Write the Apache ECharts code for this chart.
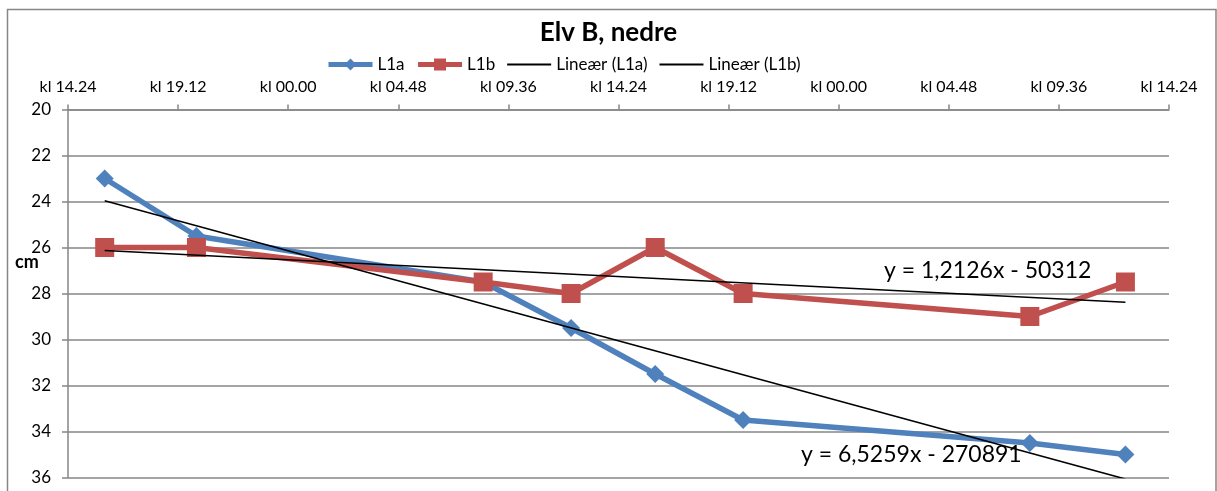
<!DOCTYPE html>
<html>
<head>
<meta charset="utf-8">
<script src="https://cdn.jsdelivr.net/npm/echarts@6/dist/echarts.min.js"></script>
<style>
html,body{margin:0;padding:0;background:#fff;}
#chart{width:1217px;height:491px;}
</style>
</head>
<body>
<div id="chart"></div>
<script>
// Time of each measurement, in minutes from midnight of day 0
const timesMin = [960, 1200, 1950, 2180, 2400, 2630, 3380, 3630];
const l1a = [23, 25.5, 27.5, 29.5, 31.5, 33.5, 34.5, 35];
const l1b = [26, 26, 27.5, 28, 26, 28, 29, 27.5];
// X axis: kl 14.24 (864 min) to kl 14.24 two days later, every 4 h 48 min
const xMin = 864, xMax = 3744, xStep = 288;
const yMin = 20, yMax = 36, yStep = 2;
const seriesNames = ['L1a', 'L1b', 'Lineær (L1a)', 'Lineær (L1b)'];
const eqA = 'y = 6,5259x - 270891';
const eqB = 'y = 1,2126x - 50312';

function linFit(xs, ys) {
  const n = xs.length;
  const mx = xs.reduce((a, b) => a + b, 0) / n;
  const my = ys.reduce((a, b) => a + b, 0) / n;
  let sxy = 0, sxx = 0;
  for (let i = 0; i < n; i++) { sxy += (xs[i] - mx) * (ys[i] - my); sxx += (xs[i] - mx) ** 2; }
  const k = sxy / sxx;
  const x0 = xs[0], x1 = xs[n - 1];
  return [[x0, my + k * (x0 - mx)], [x1, my + k * (x1 - mx)]];
}
const pairs = ys => timesMin.map((t, i) => [t, ys[i]]);
const pad = v => (v < 10 ? '0' : '') + v;
const FONT = 'Lato, "Open Sans", sans-serif';
const GRAY = '#868686';
const BLUE = '#4F81BD', RED = '#C0504D';

const chart = echarts.init(document.getElementById('chart'), null, {renderer: 'canvas'});
chart.setOption({
  animation: false,
  textStyle: {fontFamily: FONT},
  title: {
    text: 'Elv B, nedre', left: 'center', top: 15,
    textStyle: {fontFamily: FONT, fontSize: 26, fontWeight: 'bold', color: '#000'}
  },
  legend: {
    data: [
      {name: seriesNames[0], lineStyle: {width: 5}},
      {name: seriesNames[1], lineStyle: {width: 5}},
      {name: seriesNames[2], itemStyle: {opacity: 0}, lineStyle: {width: 2}},
      {name: seriesNames[3], itemStyle: {opacity: 0}, lineStyle: {width: 2}}
    ],
    left: 321, top: 51, itemWidth: 44, itemHeight: 15, itemGap: 11,
    textStyle: {fontFamily: FONT, fontSize: 17, color: '#000'}
  },
  grid: {left: 68, right: 48, top: 109.5, bottom: 13.5, containLabel: false},
  xAxis: {
    type: 'value', position: 'top', min: xMin, max: xMax, interval: xStep,
    axisLine: {show: true, lineStyle: {color: GRAY, width: 1.5}},
    axisTick: {show: true, inside: false, length: 5, lineStyle: {color: GRAY, width: 1.5}},
    splitLine: {show: false},
    axisLabel: {
      margin: 15, color: '#000', fontSize: 16, fontFamily: FONT, showMinLabel: true, showMaxLabel: true,
      formatter: v => { const m = ((v % 1440) + 1440) % 1440; return 'kl ' + pad(Math.floor(m / 60)) + '.' + pad(m % 60); }
    }
  },
  yAxis: {
    type: 'value', inverse: true, min: yMin, max: yMax, interval: yStep,
    axisLine: {show: true, lineStyle: {color: GRAY, width: 1.5}},
    axisTick: {show: true, inside: false, length: 6, lineStyle: {color: GRAY, width: 1.5}},
    splitLine: {show: true, lineStyle: {color: GRAY, width: 1.5}},
    axisLabel: {margin: 17, color: '#000', fontSize: 17, fontFamily: FONT}
  },
  graphic: [
    {type: 'rect', silent: true, z: -1, shape: {x: 7.5, y: 9.5, width: 1208.5, height: 520},
     style: {fill: 'none', stroke: GRAY, lineWidth: 1.5}},
    {type: 'text', left: 15, top: 253, style: {text: 'cm', font: 'bold 18px ' + FONT, fill: '#000'}},
    {type: 'text', left: 884, top: 259, z: 100, style: {text: eqB, font: '23px ' + FONT, fill: '#000'}},
    {type: 'text', left: 801, top: 443, z: 100, style: {text: eqA, font: '23px ' + FONT, fill: '#000'}}
  ],
  series: [
    {name: seriesNames[0], type: 'line', data: pairs(l1a), symbol: 'diamond', symbolSize: 18,
     itemStyle: {color: BLUE}, lineStyle: {color: BLUE, width: 5.5}, z: 2},
    {name: seriesNames[1], type: 'line', data: pairs(l1b), symbol: 'rect', symbolSize: 19,
     itemStyle: {color: RED}, lineStyle: {color: RED, width: 5.5}, z: 3},
    {name: seriesNames[2], type: 'line', data: linFit(timesMin, l1a), symbol: 'none', clip: true,
     itemStyle: {color: '#000'}, lineStyle: {color: '#000', width: 1.5}, z: 4},
    {name: seriesNames[3], type: 'line', data: linFit(timesMin, l1b), symbol: 'none', clip: true,
     itemStyle: {color: '#000'}, lineStyle: {color: '#000', width: 1.5}, z: 4}
  ]
});
</script>
</body>
</html>
